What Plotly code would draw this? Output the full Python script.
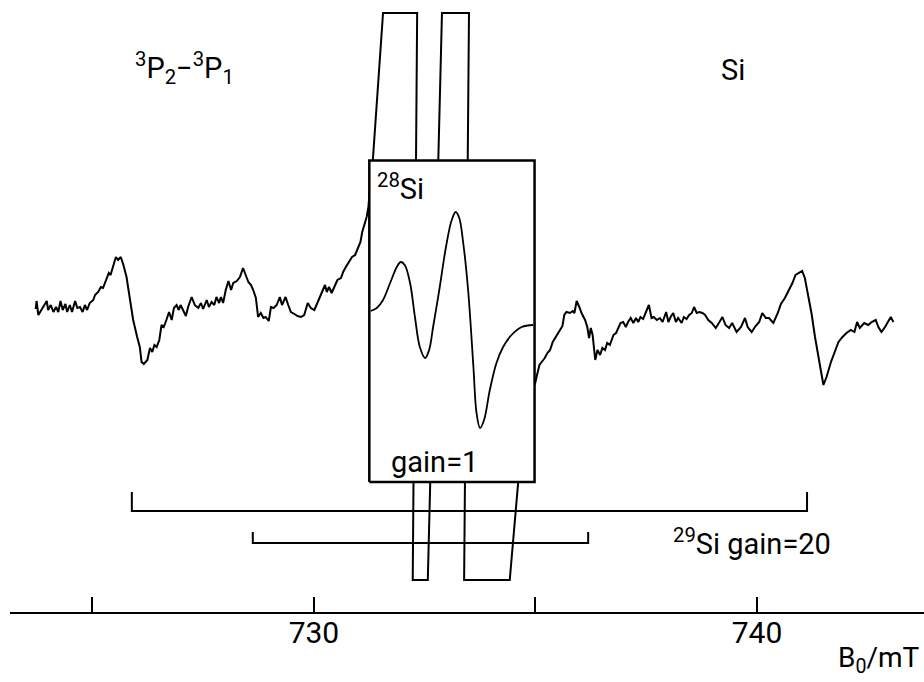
import plotly.graph_objects as go

# ---------------- data (field in mT, signal in arbitrary units) ----------------
# 29Si spectrum recorded at gain = 20 (the strong 28Si line runs off scale)
field_gain20 = [
    723.72, 723.74, 723.78, 723.85, 723.93, 723.97, 724.00, 724.06, 724.12, 724.18,
    724.23, 724.28, 724.33, 724.39, 724.43, 724.49, 724.54, 724.61, 724.66, 724.72,
    724.78, 724.83, 724.88, 724.94, 725.02, 725.06, 725.13, 725.19, 725.24, 725.30,
    725.37, 725.41, 725.47, 725.53, 725.58, 725.64, 725.70, 725.77, 725.85, 725.92,
    726.01, 726.07, 726.11, 726.16, 726.24, 726.30, 726.35, 726.40, 726.45, 726.51,
    726.56, 726.61, 726.67, 726.73, 726.79, 726.84, 726.90, 726.95, 726.99, 727.05,
    727.11, 727.16, 727.24, 727.31, 727.39, 727.45, 727.50, 727.58, 727.63, 727.69,
    727.75, 727.80, 727.86, 727.90, 727.95, 728.01, 728.07, 728.13, 728.18, 728.26,
    728.33, 728.40, 728.46, 728.52, 728.58, 728.63, 728.69, 728.74, 728.80, 728.86,
    728.91, 728.98, 729.03, 729.09, 729.16, 729.23, 729.28, 729.36, 729.42, 729.48,
    729.56, 729.63, 729.71, 729.78, 729.86, 729.93, 730.01, 730.08, 730.14, 730.19,
    730.25, 730.29, 730.34, 730.40, 730.46, 730.53, 730.61, 730.66, 730.72, 730.79,
    730.86, 730.93, 731.00, 731.05, 731.09, 731.15, 731.19, 731.23, 731.26, 731.33,
    731.56, 732.33, 732.23, 732.57, 732.89, 733.50, 733.39, 734.42, 734.61, 734.79,
    734.95, 734.99, 735.03, 735.09, 735.14, 735.21, 735.27, 735.33, 735.39, 735.46,
    735.54, 735.61, 735.65, 735.70, 735.78, 735.84, 735.88, 735.93, 735.99, 736.04,
    736.12, 736.17, 736.21, 736.25, 736.29, 736.35, 736.40, 736.46, 736.51, 736.57,
    736.62, 736.68, 736.76, 736.82, 736.87, 736.92, 736.98, 737.04, 737.09, 737.15,
    737.21, 737.27, 737.32, 737.37, 737.43, 737.49, 737.56, 737.62, 737.67, 737.74,
    737.81, 737.87, 737.95, 738.00, 738.05, 738.11, 738.17, 738.22, 738.30, 738.35,
    738.41, 738.47, 738.53, 738.58, 738.64, 738.70, 738.77, 738.83, 738.90, 738.98,
    739.07, 739.14, 739.22, 739.29, 739.37, 739.44, 739.54, 739.64, 739.73, 739.79,
    739.88, 739.97, 740.05, 740.12, 740.20, 740.27, 740.37, 740.47, 740.54, 740.63,
    740.72, 740.80, 740.87, 740.95, 741.02, 741.08, 741.16, 741.23, 741.31, 741.38,
    741.44, 741.50, 741.57, 741.67, 741.76, 741.84, 741.93, 742.02, 742.12, 742.20,
    742.26, 742.32, 742.42, 742.51, 742.59, 742.68, 742.74, 742.81, 742.89, 742.96,
    743.02, 743.08,
]
signal_gain20 = [
    303, 311, 297, 302, 307, 311, 302, 307, 300, 305,
    300, 311, 302, 308, 300, 307, 300, 311, 304, 305,
    300, 307, 302, 309, 312, 317, 320, 325, 324, 332,
    339, 337, 345, 355, 352, 355, 347, 335, 312, 292,
    275, 265, 250, 248, 252, 264, 260, 267, 265, 272,
    287, 285, 292, 300, 292, 304, 307, 302, 307, 302,
    296, 305, 315, 307, 304, 309, 303, 312, 305, 310,
    307, 315, 309, 315, 309, 322, 331, 322, 329, 331,
    335, 344, 337, 330, 327, 322, 314, 295, 299, 294,
    295, 291, 305, 304, 307, 315, 307, 315, 307, 300,
    298, 296, 295, 297, 309, 304, 302, 309, 316, 320,
    327, 320, 325, 319, 325, 332, 334, 340, 345, 350,
    355, 357, 364, 370, 380, 390, 395, 405, 422, 452,
    599, 599, 32, 32, 599, 599, 32, 32, 129, 222,
    225, 228, 236, 247, 250, 254, 259, 262, 270, 275,
    282, 286, 297, 300, 299, 301, 299, 311, 305, 299,
    292, 285, 274, 284, 277, 252, 262, 257, 264, 262,
    269, 267, 277, 279, 284, 289, 290, 285, 290, 294,
    289, 294, 290, 295, 293, 299, 307, 294, 295, 292,
    294, 290, 300, 290, 295, 299, 290, 294, 289, 295,
    293, 297, 299, 305, 299, 300, 299, 297, 292, 289,
    284, 289, 295, 287, 284, 289, 280, 285, 294, 285,
    280, 286, 290, 299, 294, 294, 289, 299, 308, 314,
    322, 329, 337, 339, 341, 334, 315, 299, 275, 255,
    242, 227, 235, 250, 260, 270, 275, 279, 282, 280,
    290, 284, 289, 287, 290, 292, 285, 280, 285, 290,
    295, 290,
]

# 28Si line recorded at gain = 1 (inset)
field_gain1 = [
    731.28, 731.42, 731.56, 731.72, 731.87, 731.96, 732.05, 732.17, 732.28, 732.39,
    732.51, 732.60, 732.69, 732.84, 732.98, 733.11, 733.20, 733.28, 733.37, 733.48,
    733.60, 733.67, 733.75, 733.84, 733.97, 734.12, 734.27, 734.46, 734.69, 734.95,
]
signal_gain1 = [
    301, 304, 312, 329, 345, 350, 347, 329, 295, 265,
    254, 262, 285, 325, 365, 392, 400, 394, 369, 322,
    245, 199, 184, 192, 222, 249, 265, 277, 285, 287,
]

# inset frame (field and signal limits)
inset_field = [731.25, 734.98]
inset_signal = [130, 451.5]

# 29Si hyperfine stick diagrams: [low-field end, high-field end]
hf_outer = [725.89, 741.13]
hf_inner = [728.62, 736.19]
hf_outer_level = [101, 120]   # [bar, end-tick top]
hf_inner_level = [69, 80]

tick_values = [725, 730, 735, 740]
tick_labels = ["", "730", "", "740"]

# ---------------- figure ----------------
FONT = "Roboto, 'DejaVu Sans', sans-serif"
fig = go.Figure()

fig.add_trace(go.Scatter(
    x=field_gain20, y=signal_gain20, mode="lines",
    line=dict(color="black", width=2), hoverinfo="skip"))

for ends, lev in ((hf_outer, hf_outer_level), (hf_inner, hf_inner_level)):
    fig.add_trace(go.Scatter(
        x=[ends[0], ends[0], ends[1], ends[1]],
        y=[lev[1], lev[0], lev[0], lev[1]],
        mode="lines", line=dict(color="black", width=2), hoverinfo="skip"))

fig.add_trace(go.Scatter(
    x=[inset_field[0], inset_field[1], inset_field[1], inset_field[0], inset_field[0]],
    y=[inset_signal[0], inset_signal[0], inset_signal[1], inset_signal[1], inset_signal[0]],
    mode="lines", fill="toself", fillcolor="white",
    line=dict(color="black", width=2.5), hoverinfo="skip"))

fig.add_trace(go.Scatter(
    x=field_gain1, y=signal_gain1, mode="lines",
    line=dict(color="black", width=1.8, shape="spline", smoothing=1.0), hoverinfo="skip"))

def label(text, x, y, size=29, xanchor="center", xref="x", yref="y"):
    fig.add_annotation(text=text, x=x, y=y, xref=xref, yref=yref, showarrow=False,
                       xanchor=xanchor, yanchor="middle",
                       font=dict(family=FONT, size=size, color="black"))

label("<sup>3</sup>P<sub>2</sub>\u2212<sup>3</sup>P<sub>1</sub>", 727.07, 544)
label("Si", 739.46, 542)
label("<sup>28</sup>Si", 731.38, 425, xanchor="left")
label("gain=1", 732.73, 150)
label("<sup>29</sup>Si gain=20", 739.89, 70)
label("B<sub>0</sub>/mT", 0.998, -0.078, size=28, xanchor="right", xref="paper", yref="paper")

fig.update_layout(
    width=924, height=682,
    margin=dict(l=10, r=0, t=0, b=70),
    paper_bgcolor="white", plot_bgcolor="white",
    showlegend=False,
    xaxis=dict(range=[723.14, 743.77], showgrid=False, zeroline=False,
               showline=True, linecolor="black", linewidth=2,
               ticks="inside", ticklen=15, tickwidth=2, tickcolor="black",
               tickvals=tick_values, ticktext=tick_labels,
               ticklabelstandoff=-7,
               tickfont=dict(family=FONT, size=30, color="black")),
    yaxis=dict(range=[0, 612], visible=False, showgrid=False, zeroline=False),
)

fig.write_html("out.html",
               config={"displayModeBar": False, "staticPlot": True},
               post_script="document.body.style.margin='0';document.body.style.overflow='hidden';")
